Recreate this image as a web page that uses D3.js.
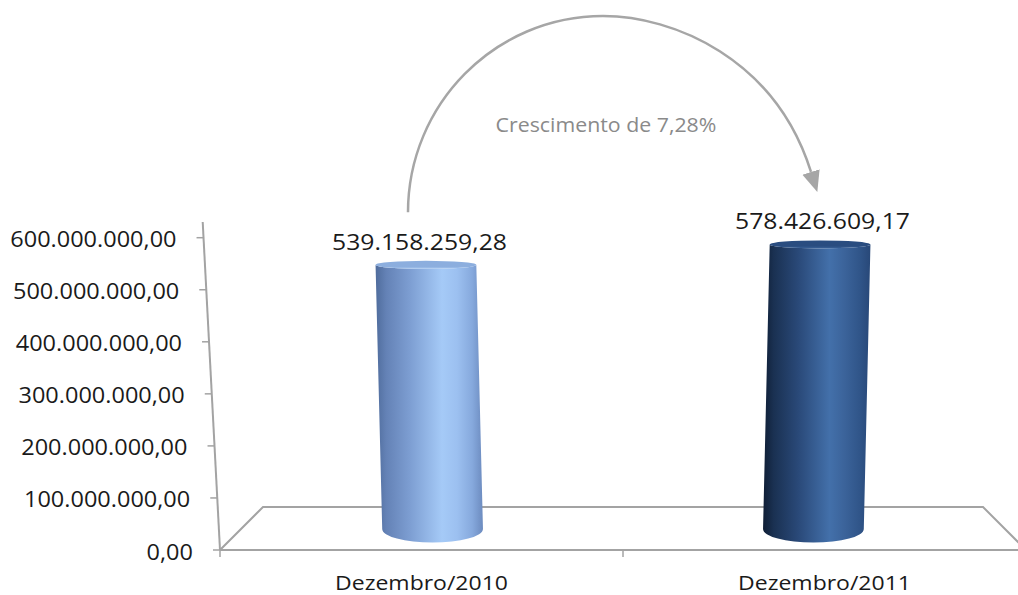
<!DOCTYPE html>
<html>
<head>
<meta charset="utf-8">
<script src="https://cdn.jsdelivr.net/npm/d3@7/dist/d3.min.js"></script>
<style>
  html, body { margin: 0; padding: 0; background: #ffffff; }
  svg { display: block; }
  text { font-family: "Open Sans", "Noto Sans", sans-serif; }
</style>
</head>
<body>
<svg id="chart" width="1018" height="595"></svg>
<script>
// Saldo por período
const categories = ["Dezembro/2010", "Dezembro/2011"];
const values = [539158259.28, 578426609.17];
const yTicks = [0, 100000000, 200000000, 300000000, 400000000, 500000000, 600000000];
const barColors = [
  { stops: ["#4f6c9c", "#6482b6", "#7d9ed2", "#a5caf7", "#9cc0f0", "#86a9dd", "#6c8bbf"], cap: "#8caede", capRim: "#a6c6ef" },
  { stops: ["#0f1e35", "#1a3152", "#294877", "#4370aa", "#3b639a", "#305589", "#284878"], cap: "#2a4d80", capRim: "#3a6299" }
];

const ptBR = d3.formatLocale({ decimal: ",", thousands: ".", grouping: [3], currency: ["R$", ""] });
const fmtMoney = ptBR.format(",.2f");
const fmtPct = ptBR.format(".2%");

const svg = d3.select("#chart");
const defs = svg.append("defs");
const axisGray = "#a3a3a3";

// scales
const x = d3.scaleBand().domain(categories).range([220, 1026]).padding(0);
const y = d3.scaleLinear().domain([0, 600000000]).range([550, 237.7]);
const floorDepth = 43;     // receding depth of the floor
const axisTopY = 222;
// the value axis leans slightly left as it rises
const axisX = yy => 220 - (550 - yy) * (17.3 / 328);

// text drawn with a slight horizontal stretch
function stretchedText(g, tx, ty, str, size, sx, anchor, fill) {
  return g.append("text")
    .attr("transform", `translate(${tx},${ty}) scale(${sx},1)`)
    .attr("text-anchor", anchor)
    .attr("font-size", size)
    .attr("fill", fill)
    .text(str);
}

// floor outline
const floorL = x.range()[0], floorR = x.range()[1];
svg.append("path")
  .attr("d", `M${floorL},${y(0)} L${floorL + floorDepth},${y(0) - floorDepth} L${floorR - floorDepth},${y(0) - floorDepth} L${floorR},${y(0)}`)
  .attr("fill", "none").attr("stroke", axisGray).attr("stroke-width", 2);
svg.append("line")
  .attr("x1", floorL).attr("y1", y(0)).attr("x2", floorR).attr("y2", y(0))
  .attr("stroke", axisGray).attr("stroke-width", 2);

// category ticks
const catTicks = categories.map(c => x(c)).concat([floorR]);
svg.selectAll(".ctick").data(catTicks).enter().append("line")
  .attr("x1", d => d).attr("x2", d => d)
  .attr("y1", y(0)).attr("y2", y(0) + 7)
  .attr("stroke", axisGray).attr("stroke-width", 1.5);

// value axis
svg.append("line")
  .attr("x1", axisX(y(0))).attr("y1", y(0))
  .attr("x2", axisX(axisTopY)).attr("y2", axisTopY)
  .attr("stroke", axisGray).attr("stroke-width", 2);
const yAxisG = svg.append("g");
yTicks.forEach(t => {
  const yy = y(t), ax = axisX(yy);
  yAxisG.append("line")
    .attr("x1", ax - 7).attr("x2", ax).attr("y1", yy).attr("y2", yy)
    .attr("stroke", axisGray).attr("stroke-width", 1.5);
  stretchedText(yAxisG, ax - 27, yy + 9.5, fmtMoney(t), 21, 1.12, "end", "#1a1a1a");
});

// category labels
categories.forEach(c => {
  stretchedText(svg, x(c) + x.bandwidth() / 2, 590, c, 20, 1.15, "middle", "#1a1a1a");
});

// cylinders
const barW = x.bandwidth() * 0.25;
const vanishX = (floorL + floorR) / 2;
const bottomY = y(0) - floorDepth / 2 + 0.5;
const ryTop = 4, ryBot = 13.5;

categories.forEach((c, i) => {
  const cx = x(c) + x.bandwidth() / 2;
  const pull = vanishX - cx;
  const cxTop = cx + pull * 0.022;
  const cxBot = cx + pull * 0.055;
  const topY = y(values[i]) - 4.5;
  const r = barW / 2;
  const col = barColors[i];

  const gid = "body" + i;
  const lg = defs.append("linearGradient").attr("id", gid)
    .attr("x1", "0%").attr("x2", "100%").attr("y1", "0%").attr("y2", "0%");
  const offs = [0, 0.1, 0.32, 0.62, 0.76, 0.9, 1];
  col.stops.forEach((s, k) => lg.append("stop").attr("offset", offs[k]).attr("stop-color", s));

  const cg = "cap" + i;
  const rg = defs.append("linearGradient").attr("id", cg)
    .attr("x1", "0%").attr("x2", "0%").attr("y1", "0%").attr("y2", "100%");
  rg.append("stop").attr("offset", 0).attr("stop-color", col.cap);
  rg.append("stop").attr("offset", 0.7).attr("stop-color", col.cap);
  rg.append("stop").attr("offset", 1).attr("stop-color", col.capRim);

  svg.append("path")
    .attr("d", `M${cxTop - r},${topY} L${cxBot - r},${bottomY} A${r},${ryBot} 0 0 0 ${cxBot + r},${bottomY} L${cxTop + r},${topY} A${r},${ryTop} 0 0 1 ${cxTop - r},${topY} Z`)
    .attr("fill", `url(#${gid})`);
  svg.append("ellipse")
    .attr("cx", cxTop).attr("cy", topY).attr("rx", r).attr("ry", ryTop)
    .attr("fill", `url(#${cg})`);

  stretchedText(svg, cx - 2, topY - 15, fmtMoney(values[i]), 21.5, 1.15, "middle", "#1a1a1a");
});

// growth annotation: curved arrow from the first bar over to the second
const growth = values[1] / values[0] - 1;
const c0 = x(categories[0]) + x.bandwidth() / 2;
const c1 = x(categories[1]) + x.bandwidth() / 2;
const start = [c0 - 13.5, y(values[0]) - 57];
const end = [c1 - 13.5, y(values[1]) - 77];
const peak = [(start[0] + end[0]) / 2 - 6.5, 16];

defs.append("marker").attr("id", "head")
  .attr("markerUnits", "userSpaceOnUse")
  .attr("markerWidth", 22).attr("markerHeight", 20)
  .attr("refX", 0).attr("refY", 9)
  .attr("orient", "auto")
  .append("path").attr("d", "M0,0 L21,9 L0,18 Z").attr("fill", "#a6a6a6");

const arc = d3.path();
arc.moveTo(start[0], start[1]);
arc.bezierCurveTo(start[0], start[1] - 108, peak[0] - 108, peak[1], peak[0], peak[1]);
arc.bezierCurveTo(peak[0] + 70, peak[1], end[0] - 36, end[1] - 114, end[0], end[1]);
svg.append("path")
  .attr("d", arc.toString())
  .attr("fill", "none").attr("stroke", "#a6a6a6").attr("stroke-width", 2.5)
  .attr("marker-end", "url(#head)");

stretchedText(svg, peak[0] + 3, 132, "Crescimento de " + fmtPct(growth), 20.5, 1.04, "middle", "#8a8a8a");
</script>
</body>
</html>
